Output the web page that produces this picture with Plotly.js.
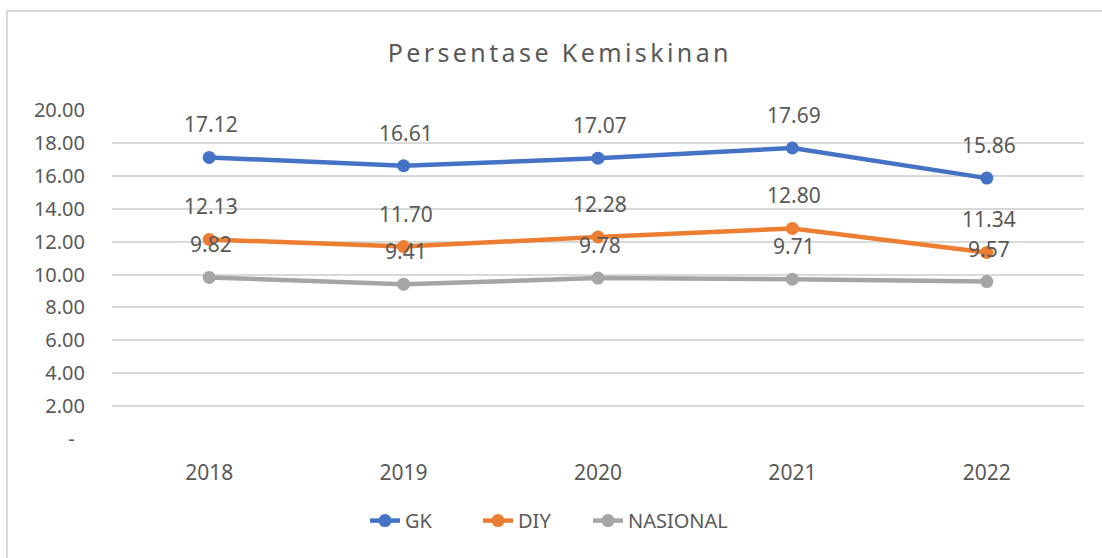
<!DOCTYPE html>
<html>
<head>
<meta charset="utf-8">
<script src="https://cdn.plot.ly/plotly-3.0.1.min.js"></script>
<style>
  html, body { margin: 0; padding: 0; background: #ffffff; }
  #wrap { position: relative; width: 1102px; height: 558px; overflow: hidden; }
  #chart { width: 1102px; height: 558px; }
  #frame { position: absolute; left: 6px; top: 10px; width: 1200px; height: 700px;
           border-left: 2px solid #D9D9D9; border-top: 2px solid #D9D9D9; pointer-events: none; }
  .gtitle { letter-spacing: 3.4px; }
</style>
</head>
<body>
<div id="wrap">
  <div id="chart"></div>
  <div id="frame"></div>
</div>
<script>
const years = ['2018', '2019', '2020', '2021', '2022'];
const gk = [17.12, 16.61, 17.07, 17.69, 15.86];
const diy = [12.13, 11.70, 12.28, 12.80, 11.34];
const nasional = [9.82, 9.41, 9.78, 9.71, 9.57];
const yTickVals = [0, 2, 4, 6, 8, 10, 12, 14, 16, 18, 20];
const yTickText = ['-\u00A0\u00A0', '2.00', '4.00', '6.00', '8.00', '10.00', '12.00', '14.00', '16.00', '18.00', '20.00'];

const FONT = '"Noto Sans", "Open Sans", sans-serif';
const TXT = '#595959';

const series = [
  { name: 'GK', y: gk, color: '#4472C4', legend: 'legend' },
  { name: 'DIY', y: diy, color: '#ED7D31', legend: 'legend' },
  { name: 'NASIONAL', y: nasional, color: '#A5A5A5', legend: 'legend2' }
];

const traces = series.map(s => ({
  type: 'scatter',
  mode: 'lines+markers',
  name: s.name,
  legend: s.legend,
  x: years,
  y: s.y,
  line: { color: s.color, width: 4.5 },
  marker: { color: s.color, size: 13 },
  hoverinfo: 'skip'
}));

const annotations = [];
series.forEach(s => {
  s.y.forEach((v, i) => {
    annotations.push({
      x: i, y: v, xref: 'x', yref: 'y',
      text: v.toFixed(2), showarrow: false,
      xanchor: 'center', yanchor: 'middle',
      xshift: 2, yshift: 33,
      font: { family: FONT, size: 21, color: TXT }
    });
  });
});

const legendFont = { family: FONT, size: 20, color: TXT };

const layout = {
  width: 1102, height: 558,
  margin: { l: 112, r: 18, t: 110, b: 119 },
  paper_bgcolor: '#ffffff', plot_bgcolor: '#ffffff',
  font: { family: FONT, color: TXT },
  title: {
    text: 'Persentase Kemiskinan',
    font: { family: FONT, size: 25, color: TXT },
    x: 0.508, xref: 'container', xanchor: 'center',
    y: 0.905, yref: 'container', yanchor: 'middle'
  },
  xaxis: {
    type: 'category', range: [-0.5, 4.5],
    showgrid: false, zeroline: false, showline: false,
    ticks: '', ticklabelstandoff: 19,
    tickfont: { family: FONT, size: 21, color: TXT },
    fixedrange: true
  },
  yaxis: {
    range: [0, 20], tickvals: yTickVals, ticktext: yTickText,
    showgrid: true, gridcolor: '#D9D9D9', gridwidth: 2,
    zeroline: false, showline: false, ticks: '',
    ticklabelstandoff: 26,
    tickfont: { family: FONT, size: 20, color: TXT },
    fixedrange: true
  },
  showlegend: true,
  legend: {
    orientation: 'h', x: 0.2603, xanchor: 'left', y: -0.248, yanchor: 'middle',
    font: legendFont,
    entrywidth: 68, entrywidthmode: 'pixels', traceorder: 'normal'
  },
  legend2: {
    orientation: 'h', x: 0.4897, xanchor: 'left', y: -0.248, yanchor: 'middle',
    font: legendFont, traceorder: 'normal'
  },
  annotations: annotations
};

Plotly.newPlot('chart', traces, layout, { staticPlot: true, displayModeBar: false });
</script>
</body>
</html>
